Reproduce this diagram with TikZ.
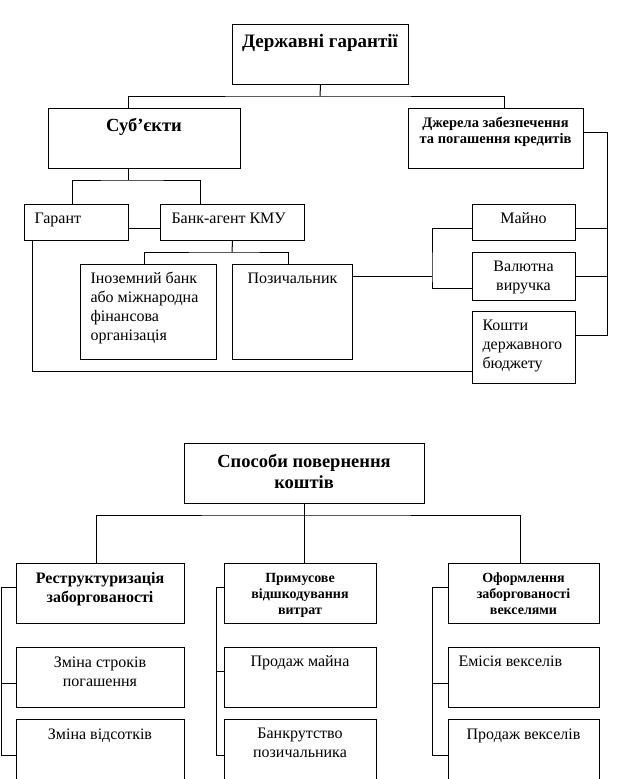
\documentclass[tikz,border=0pt]{standalone}
\usepackage{fontspec}
\setmainfont{Liberation Serif}
\newcommand{\mylines}[2]{\begin{tabular}[t]{@{}#1@{}}#2\end{tabular}}
\begin{document}
\begin{tikzpicture}[x=1pt,y=-1pt,line width=1pt,
  box/.style={draw,line width=1pt,inner sep=0pt,anchor=north west},
  txt/.style={inner sep=0pt,anchor=base},
  txtl/.style={inner sep=0pt,anchor=base west},
  fbig/.style={font=\fontsize{19}{22}\selectfont\bfseries},
  fsub/.style={font=\fontsize{18.5}{21}\selectfont\bfseries},
  fsrc/.style={font=\fontsize{14.5}{16}\selectfont\bfseries},
  fres/.style={font=\fontsize{16}{19}\selectfont\bfseries},
  fsm/.style={font=\fontsize{14}{16}\selectfont\bfseries},
  fn/.style={font=\fontsize{16}{19}\selectfont}]
\path[use as bounding box] (0,0) rectangle (642,779);
\clip (0,0) rectangle (642,779);

% ---------- upper diagram boxes ----------
\node[box,minimum width=176pt,minimum height=60pt] (top) at (232,24) {};
\node[box,minimum width=192pt,minimum height=60pt] (subj) at (48,108) {};
\node[box,minimum width=175pt,minimum height=60pt] (src) at (408,108) {};
\node[box,minimum width=104pt,minimum height=36pt] (gar) at (24,204) {};
\node[box,minimum width=144pt,minimum height=36pt] (bank) at (160,204) {};
\node[box,minimum width=136pt,minimum height=95pt] (foreign) at (80,264) {};
\node[box,minimum width=120pt,minimum height=95pt] (borrower) at (232,264) {};
\node[box,minimum width=103pt,minimum height=36pt] (mayno) at (472,204) {};
\node[box,minimum width=103pt,minimum height=48pt] (valuta) at (472,252) {};
\node[box,minimum width=103pt,minimum height=72pt] (koshty) at (472,311) {};

% texts
\node[txt,fbig] (t-top) at (320,47) {Державні гарантії};
\node[txt,fsub] (t-subj) at (144,131) {Суб’єкти};
\node[txt,fsrc] (t-src) at (495.5,127) {\mylines{c}{Джерела забезпечення\\та погашення кредитів}};
\node[txtl,fn] (t-gar) at (34,223) {Гарант};
\node[txtl,fn] (t-bank) at (171,223) {Банк-агент КМУ};
\node[txtl,fn] (t-foreign) at (90,283) {\mylines{l}{Іноземний банк\\або міжнародна\\фінансова\\організація}};
\node[txtl,fn] (t-borrower) at (247,283) {Позичальник};
\node[txt,fn] (t-mayno) at (523.5,223) {Майно};
\node[txt,fn] (t-valuta) at (523.5,271) {\mylines{c}{Валютна\\виручка}};
\node[txtl,fn] (t-koshty) at (482,330) {\mylines{l}{Кошти\\державного\\бюджету}};

% connectors
\coordinate (j1) at (320,96);
\draw (top.south) -- (j1);
\draw (subj.north -| 128,0) |- (j1) -| (src.north -| 504,0);
\coordinate (j2) at (128,180);
\draw (subj.south -| j2) -- (j2);
\draw (gar.north -| 72,0) |- (j2) -| (bank.north -| 200,0);
\draw (gar.east |- 0,228) -- (bank.west |- 0,228);
\coordinate (j3) at (232,252);
\draw (bank.south) -- (j3);
\draw (foreign.north -| 144,0) |- (j3) -| (borrower.north -| 288,0);
\coordinate (j4) at (432,276);
\draw (borrower.east |- j4) -- (j4);
\draw (mayno.west |- 0,228) -| (j4) |- (valuta.west |- 0,288);
\coordinate (j5) at (607,335);
\draw (src.east |- 0,132) -| (j5) -- (koshty.east |- j5);
\draw (mayno.east |- 0,228) -- (607,228);
\draw (valuta.east) -- (valuta.east -| j5);
\draw (gar.south -| 32,0) |- (koshty.west |- 0,371);

% ---------- lower diagram boxes ----------
\node[box,minimum width=240pt,minimum height=60pt] (ways) at (184,443) {};
\node[box,minimum width=168pt,minimum height=60pt] (ra) at (16,563) {};
\node[box,minimum width=152pt,minimum height=60pt] (rb) at (224,563) {};
\node[box,minimum width=151pt,minimum height=60pt] (rc) at (448,563) {};
\node[box,minimum width=168pt,minimum height=60pt] (ra1) at (16,647) {};
\node[box,minimum width=168pt,minimum height=80pt] (ra2) at (16,719) {};
\node[box,minimum width=152pt,minimum height=60pt] (rb1) at (224,647) {};
\node[box,minimum width=152pt,minimum height=80pt] (rb2) at (224,719) {};
\node[box,minimum width=151pt,minimum height=60pt] (rc1) at (448,647) {};
\node[box,minimum width=151pt,minimum height=80pt] (rc2) at (448,719) {};

\node[txt,fsub] (t-ways) at (304,467) {\mylines{c}{Способи повернення\\коштів}};
\node[txt,fres] (t-ra) at (100,583) {\mylines{c}{Реструктуризація\\заборгованості}};
\node[txt,fsm] (t-rb) at (300,582) {\mylines{c}{Примусове\\відшкодування\\витрат}};
\node[txt,fsm] (t-rc) at (523.5,582) {\mylines{c}{Оформлення\\заборгованості\\векселями}};
\node[txt,fn] (t-ra1) at (100,667) {\mylines{c}{Зміна строків\\погашення}};
\node[txt,fn] (t-ra2) at (100,739) {Зміна відсотків};
\node[txt,fn] (t-rb1) at (300,666) {Продаж майна};
\node[txt,fn] (t-rb2) at (300,738) {\mylines{c}{Банкрутство\\позичальника}};
\node[txtl,fn] (t-rc1) at (458,666) {Емісія векселів};
\node[txt,fn] (t-rc2) at (523.5,739) {Продаж векселів};

\coordinate (j6) at (304,515);
\draw (ways.south) -- (rb.north -| ways.south);
\draw (ra.north -| 96,0) |- (j6) -| (rc.north -| 520,0);

\coordinate (ba) at (1,755);
\coordinate (bb) at (216,755);
\coordinate (bc) at (432,755);
\draw (ra.west |- 0,587) -| (ba) -- (ra2.west |- ba);
\draw (ra1.west |- 0,683) -- (1,683);
\draw (rb.west |- 0,587) -| (bb) -- (rb2.west |- bb);
\draw (rb1.west |- 0,671) -- (216,671);
\draw (rc.west |- 0,587) -| (bc) -- (rc2.west |- bc);
\draw (rc1.west |- 0,683) -- (432,683);
\end{tikzpicture}
\end{document}
